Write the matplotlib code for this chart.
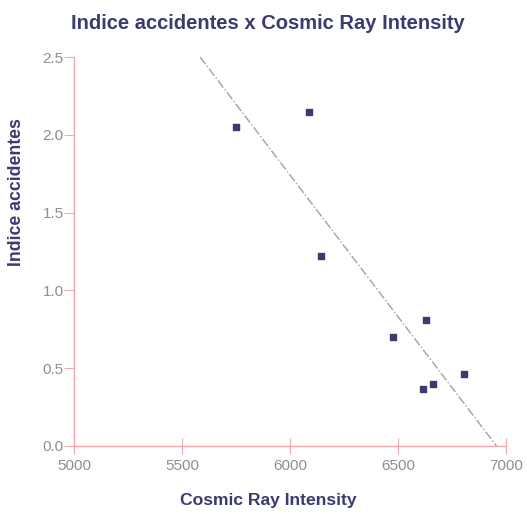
import matplotlib
matplotlib.use("Agg")
import matplotlib.pyplot as plt
import numpy as np

plt.rcParams['font.family'] = ['Liberation Sans', 'DejaVu Sans']

# Cosmic ray intensity vs accident index
cosmic_ray = [5752, 6090, 6146, 6476, 6629, 6615, 6661, 6805]
indice = [2.05, 2.15, 1.22, 0.70, 0.81, 0.365, 0.40, 0.46]

x_ticks = [5000, 5500, 6000, 6500, 7000]
y_ticks = [0.0, 0.5, 1.0, 1.5, 2.0, 2.5]

navy = '#3b3b70'
pink = '#f2a7ae'
grey = '#8f8f8f'

fig = plt.figure(figsize=(5.27, 5.14), dpi=100)
ax = fig.add_axes([0.1404, 0.1323, 0.8196, 0.7567])

ax.scatter(cosmic_ray, indice, marker='s', s=16, color=navy, zorder=3)

# least-squares trend line, clipped to the plotted y range
slope, intercept = np.polyfit(cosmic_ray, indice, 1)
x_start = (2.5 - intercept) / slope
x_end = (0.0 - intercept) / slope
xs = np.array([x_start, x_end])
ax.plot(xs, slope * xs + intercept, linestyle='-.', color='#a0a0a8', lw=1.0, zorder=2)

ax.set_xlim(5000, 7000)
ax.set_ylim(0, 2.5)
ax.set_xticks(x_ticks)
ax.set_yticks(y_ticks)
ax.set_yticklabels([f"{v:.1f}" for v in y_ticks])

for s in ['top', 'right']:
    ax.spines[s].set_visible(False)
for s in ['left', 'bottom']:
    ax.spines[s].set_color(pink)
    ax.spines[s].set_linewidth(1.0)

ax.tick_params(axis='y', direction='out', length=7, color=pink, labelcolor=grey, labelsize=11, pad=0.5)
ax.tick_params(axis='x', direction='inout', length=11, color=pink, labelcolor=grey, labelsize=11, pad=4)

fig.text(0.508, 0.955, 'Indice accidentes x Cosmic Ray Intensity', fontsize=14.5,
         fontweight='bold', color=navy, ha='center', va='center')
ax.set_xlabel('Cosmic Ray Intensity', fontsize=12.6, fontweight='bold', color=navy)
ax.xaxis.set_label_coords(0.45, -0.12)
ax.set_ylabel('Indice accidentes', fontsize=12.7, fontweight='bold', color=navy)
ax.yaxis.set_label_coords(-0.114, 0.654)

fig.savefig('out.png', dpi=100, facecolor='white')
